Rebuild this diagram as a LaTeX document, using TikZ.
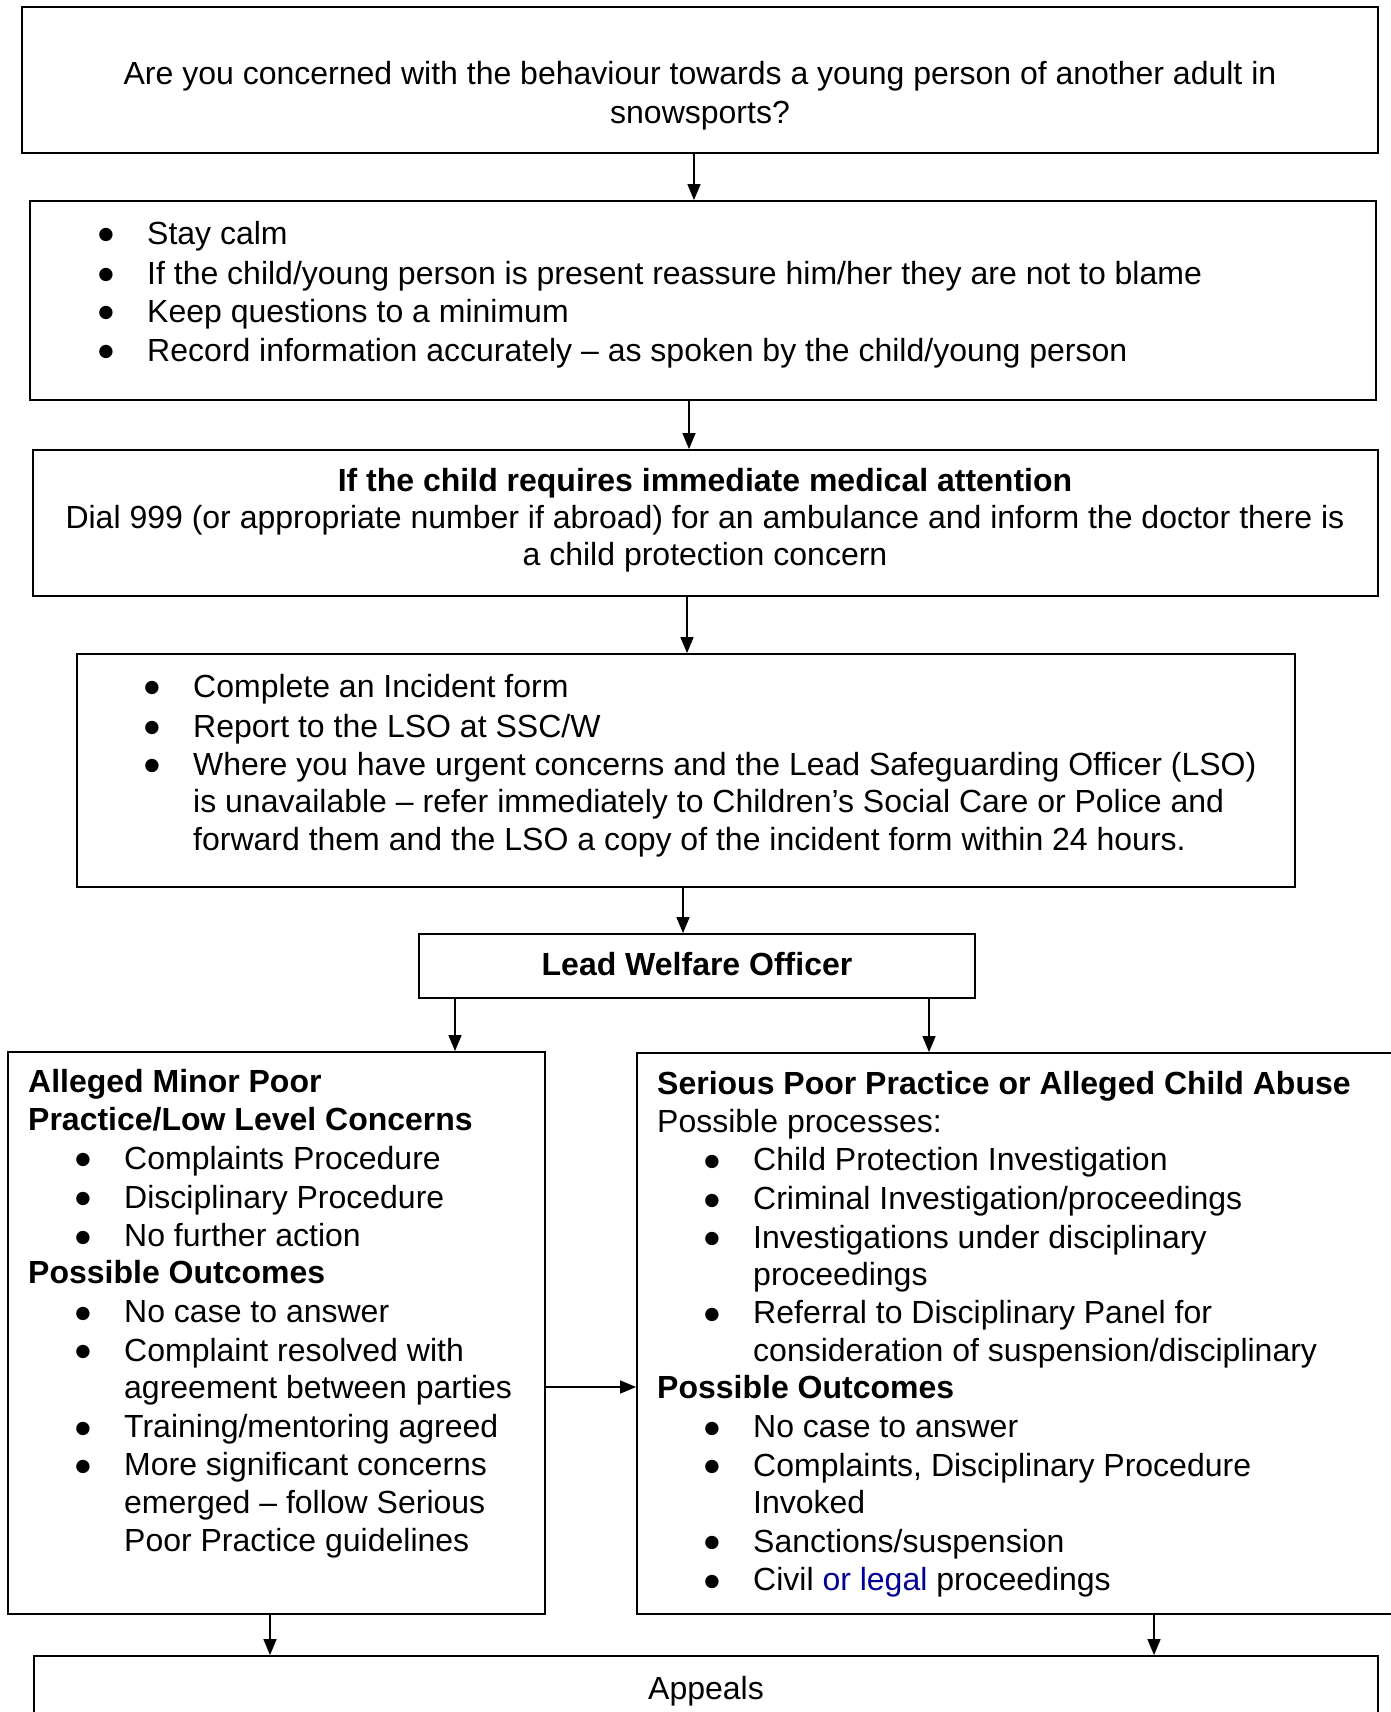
\documentclass[tikz,border=0pt]{standalone}
\usepackage{fontspec}
\setmainfont{Liberation Sans}
\newfontfamily\bulletfont{DejaVu Sans}
\usetikzlibrary{arrows.meta}
\definecolor{linkblue}{RGB}{0,0,153}
\newcommand\Ln[5]{\node[#1,anchor=base west] (#2) at (#3,#4) {#5};}
\newcommand\Bt[5]{\node[inner sep=0pt,anchor=base] (#1b) at (#2,#4) {\raisebox{4.5pt}{\bulletfont\fontsize{17.5}{17.5}\selectfont ●}};\node[txt,anchor=base west] (#1) at (#3,#4) {#5};}
\newcommand\Cl[4]{\node[txt,anchor=base] (#1) at (#2,#3) {#4};}
\begin{document}
\begin{tikzpicture}[x=1pt,y=-1pt,
  box/.style={draw, line width=1.8pt, rectangle, inner sep=0pt},
  txt/.style={inner sep=0pt, font=\fontsize{32}{38}\selectfont},
  bold/.style={inner sep=0pt, font=\fontsize{32}{38}\selectfont\bfseries},
  arr/.style={line width=1.4pt, -{Triangle[length=16pt,width=13pt]}}]
\useasboundingbox (0,0) rectangle (1390,1712);
\fill[white] (0,0) rectangle (1390,1712);
% boxes
\node[box, minimum width=1356pt, minimum height=146pt] (b1) at (700,80) {};
\node[box, minimum width=1346pt, minimum height=199pt] (b2) at (703,300.5) {};
\node[box, minimum width=1345pt, minimum height=146pt] (b3) at (705.5,523) {};
\node[box, minimum width=1218pt, minimum height=233pt] (b4) at (686,770.5) {};
\node[box, minimum width=556pt, minimum height=64pt] (b5) at (697,966) {};
\node[box, minimum width=537pt, minimum height=562pt] (b6) at (276.5,1333) {};
\node[box, minimum width=763pt, minimum height=561pt] (b7) at (1018.5,1333.5) {};
\node[box, minimum width=1344pt, minimum height=84pt] (b8) at (706,1698) {};
% arrow x positions
\coordinate (x1) at (694,0);
\coordinate (x2) at (689,0);
\coordinate (x3) at (687,0);
\coordinate (x4) at (683,0);
\coordinate (x5) at (455,0);
\coordinate (x6) at (929,0);
\coordinate (x7) at (270,0);
\coordinate (x8) at (1154,0);
\coordinate (y1) at (0,1387);
\draw[arr] (b1.south -| x1) -- (b2.north -| x1);
\draw[arr] (b2.south -| x2) -- (b3.north -| x2);
\draw[arr] (b3.south -| x3) -- (b4.north -| x3);
\draw[arr] (b4.south -| x4) -- (b5.north -| x4);
\draw[arr] (b5.south -| x5) -- (b6.north -| x5);
\draw[arr] (b5.south -| x6) -- (b7.north -| x6);
\draw[arr] (b6.east |- y1) -- (b7.west |- y1);
\draw[arr] (b6.south -| x7) -- (b8.north -| x7);
\draw[arr] (b7.south -| x8) -- (b8.north -| x8);
% box 1
\Cl{t1a}{700}{85}{Are you concerned with the behaviour towards a young person of another adult in}
\Cl{t1b}{700}{123.5}{snowsports?}
% box 2
\Bt{t2a}{106}{147}{244}{Stay calm}
\Bt{t2b}{106}{147}{284}{If the child/young person is present reassure him/her they are not to blame}
\Bt{t2c}{106}{147}{322}{Keep questions to a minimum}
\Bt{t2d}{106}{147}{361}{Record information accurately – as spoken by the child/young person}
% box 3
\node[bold,anchor=base] (t3a) at (705,491) {If the child requires immediate medical attention};
\Cl{t3b}{705}{528}{Dial 999 (or appropriate number if abroad) for an ambulance and inform the doctor there is}
\Cl{t3c}{705}{565.5}{a child protection concern}
% box 4
\Bt{t4a}{152}{193}{697}{Complete an Incident form}
\Bt{t4b}{152}{193}{737}{Report to the LSO at SSC/W}
\Bt{t4c}{152}{193}{775}{Where you have urgent concerns and the Lead Safeguarding Officer (LSO)}
\Ln{txt}{t4d}{193}{812.5}{is unavailable – refer immediately to Children’s Social Care or Police and}
\Ln{txt}{t4e}{193}{850}{forward them and the LSO a copy of the incident form within 24 hours.}
% box 5
\node[bold,anchor=base] (t5) at (697,975) {Lead Welfare Officer};
% box 6
\Ln{bold}{t6a}{28}{1092.5}{Alleged Minor Poor}
\Ln{bold}{t6b}{28}{1130.5}{Practice/Low Level Concerns}
\Bt{t6c}{83}{124}{1169}{Complaints Procedure}
\Bt{t6d}{83}{124}{1208}{Disciplinary Procedure}
\Bt{t6e}{83}{124}{1246.5}{No further action}
\Ln{bold}{t6f}{28}{1283.5}{Possible Outcomes}
\Bt{t6g}{83}{124}{1322.5}{No case to answer}
\Bt{t6h}{83}{124}{1361}{Complaint resolved with}
\Ln{txt}{t6i}{124}{1398.5}{agreement between parties}
\Bt{t6j}{83}{124}{1437.5}{Training/mentoring agreed}
\Bt{t6k}{83}{124}{1475.5}{More significant concerns}
\Ln{txt}{t6l}{124}{1513}{emerged – follow Serious}
\Ln{txt}{t6m}{124}{1551.5}{Poor Practice guidelines}
% box 7
\Ln{bold}{t7a}{657}{1094}{Serious Poor Practice or Alleged Child Abuse}
\Ln{txt}{t7b}{657}{1132}{Possible processes:}
\Bt{t7c}{712}{753}{1170.5}{Child Protection Investigation}
\Bt{t7d}{712}{753}{1209.5}{Criminal Investigation/proceedings}
\Bt{t7e}{712}{753}{1248}{Investigations under disciplinary}
\Ln{txt}{t7f}{753}{1285}{proceedings}
\Bt{t7g}{712}{753}{1323.5}{Referral to Disciplinary Panel for}
\Ln{txt}{t7h}{753}{1361}{consideration of suspension/disciplinary}
\Ln{bold}{t7i}{657}{1398.6}{Possible Outcomes}
\Bt{t7j}{712}{753}{1437.5}{No case to answer}
\Bt{t7k}{712}{753}{1476}{Complaints, Disciplinary Procedure}
\Ln{txt}{t7l}{753}{1513.5}{Invoked}
\Bt{t7m}{712}{753}{1552}{Sanctions/suspension}
\Bt{t7n}{712}{753}{1590.5}{Civil \textcolor{linkblue}{or legal} proceedings}
% box 8
\Cl{t8}{706}{1699}{Appeals}
\end{tikzpicture}
\end{document}
